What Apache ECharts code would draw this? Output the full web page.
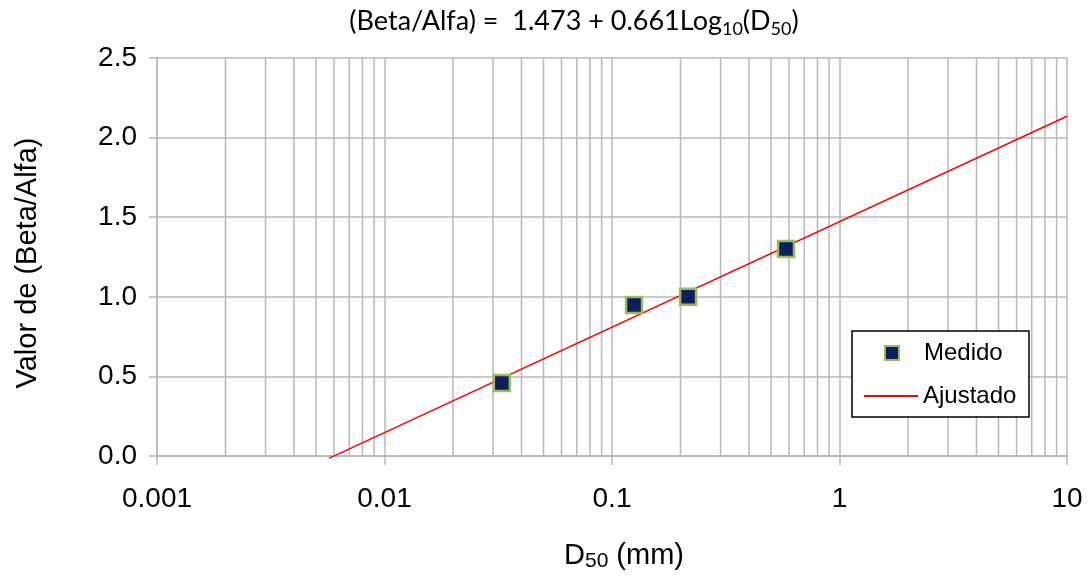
<!DOCTYPE html>
<html>
<head>
<meta charset="utf-8">
<script src="https://cdn.jsdelivr.net/npm/echarts@6/dist/echarts.min.js"></script>
<style>
  html, body { margin: 0; padding: 0; background: #fff; }
  #chart { width: 1089px; height: 578px; }
</style>
</head>
<body>
<div id="chart"></div>
<script>
// datos medidos
const medidoD50 = [0.0328, 0.125, 0.216, 0.582];
const medidoRatio = [0.459, 0.948, 1.0, 1.30];
// recta ajustada (extremos)
const ajusteD50 = [0.0057, 10];
const ajusteRatio = [-0.015, 2.134];
// etiquetas de los ejes
const xTickLabels = ['0.001', '0.01', '0.1', '1', '10'];
const decades = [0.001, 0.01, 0.1, 1];
const minorSteps = [2, 3, 4, 5, 6, 7, 8, 9];
const yMin = 0, yMax = 2.5;

const gridColor = '#b8b8b8';
const armFont = '"Liberation Sans", Arial, sans-serif';

// lineas menores de la grilla logaritmica (segmentos verticales separados)
const minorGrid = [];
decades.forEach(d => minorSteps.forEach(m => {
    const v = +(d * m).toPrecision(3);
    minorGrid.push([v, yMin], [v, yMax], ['-', '-']);
}));

const chart = echarts.init(document.getElementById('chart'));

const option = {
    animation: false,
    backgroundColor: '#fff',
    title: {
        text: '(Beta/Alfa) =  1.473 + 0.661Log{sub|10}(D{sub|50})',
        left: 569,
        textAlign: 'center',
        top: 0,
        textStyle: {
            fontFamily: 'Lato, sans-serif',
            fontWeight: 'normal',
            fontSize: 27,
            color: '#000',
            rich: {
                sub: { fontFamily: 'Lato, sans-serif', fontSize: 18, padding: [15, 0, 0, 0], color: '#000' }
            }
        }
    },
    grid: { left: 157, top: 58, right: 22, bottom: 122 },
    xAxis: {
        type: 'log',
        logBase: 10,
        min: 0.001,
        max: 10,
        name: 'D{sub|50} (mm)',
        nameLocation: 'middle',
        nameGap: 83,
        nameTextStyle: {
            fontFamily: armFont, fontSize: 29, color: '#000', padding: [0, 0, 0, 24],
            rich: { sub: { fontFamily: armFont, fontSize: 21, padding: [12, 0, 0, 0], color: '#000' } }
        },
        axisLine: { lineStyle: { color: gridColor, width: 1.5 } },
        axisTick: { show: true, length: 9, lineStyle: { color: gridColor, width: 1.5 } },
        axisLabel: {
            fontFamily: armFont, fontSize: 28, color: '#000', margin: 29,
            formatter: v => xTickLabels[Math.round(Math.log10(v)) + 3]
        },
        splitLine: { show: true, lineStyle: { color: gridColor, width: 1.5 } }
    },
    yAxis: {
        type: 'value',
        min: yMin,
        max: yMax,
        interval: 0.5,
        name: 'Valor de (Beta/Alfa)',
        nameLocation: 'middle',
        nameGap: 115,
        nameTextStyle: { fontFamily: armFont, fontSize: 29, color: '#000', padding: [0, 12, 0, 0] },
        axisLine: { show: true, lineStyle: { color: gridColor, width: 1.5 } },
        axisTick: { show: true, length: 8, lineStyle: { color: gridColor, width: 1.5 } },
        axisLabel: {
            fontFamily: armFont, fontSize: 28, color: '#000', margin: 20,
            formatter: v => v.toFixed(1)
        },
        splitLine: { show: true, lineStyle: { color: gridColor, width: 1.5 } }
    },
    legend: [
        {
            data: ['Medido'],
            left: 884, top: 341, padding: 0,
            itemWidth: 14, itemHeight: 14,
            formatter: name => '{g|}' + name,
            textStyle: { fontFamily: armFont, fontSize: 24, color: '#000', rich: { g: { width: 20 } } }
        },
        {
            data: [{ name: 'Ajustado', icon: 'rect' }],
            left: 864, top: 384, padding: 0,
            itemWidth: 54, itemHeight: 2,
            textStyle: { fontFamily: armFont, fontSize: 24, color: '#000' }
        }
    ],
    graphic: [{
        type: 'rect',
        z: 3,
        shape: { x: 852, y: 331, width: 177, height: 86 },
        style: { fill: '#fff', stroke: '#000', lineWidth: 1.5 }
    }],
    series: [
        {
            name: 'grilla',
            type: 'line',
            data: minorGrid,
            silent: true,
            showSymbol: false,
            symbol: 'none',
            connectNulls: false,
            z: 1,
            lineStyle: { color: gridColor, width: 1.5 }
        },
        {
            name: 'Ajustado',
            type: 'line',
            data: ajusteD50.map((x, i) => [x, ajusteRatio[i]]),
            showSymbol: false,
            symbol: 'none',
            clip: false,
            z: 2,
            lineStyle: { color: '#ff0000', width: 1.5 },
            itemStyle: { color: '#ff0000' }
        },
        {
            name: 'Medido',
            type: 'scatter',
            data: medidoD50.map((x, i) => [x, medidoRatio[i]]),
            symbol: 'rect',
            symbolSize: 16,
            z: 4,
            itemStyle: { color: '#0b1f5c', borderColor: '#9bbb59', borderWidth: 2.5, opacity: 1 }
        }
    ]
};

chart.setOption(option);
</script>
</body>
</html>
